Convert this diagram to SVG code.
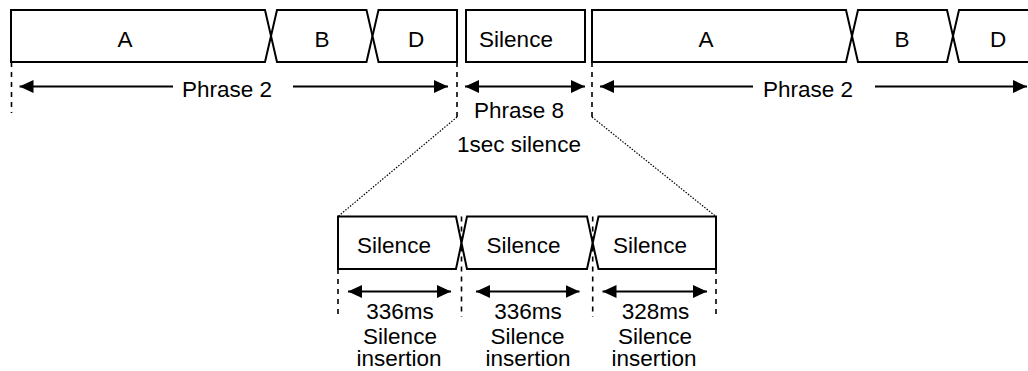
<svg xmlns="http://www.w3.org/2000/svg" width="1028" height="371" viewBox="0 0 1028 371">
<style>
.box{fill:#fff;stroke:#000;stroke-width:2;stroke-linejoin:miter}
.t{font-family:"Liberation Sans",Arial,sans-serif;font-size:22.5px;fill:#000;text-anchor:middle}
.arr{stroke:#000;stroke-width:2.2;fill:none}
.dash{stroke:#000;stroke-width:1.6;stroke-dasharray:5,5;fill:none}
.dot{stroke:#000;stroke-width:1.2;stroke-dasharray:1.5,1.5;fill:none}
</style>
<defs>
<marker id="ah" markerUnits="userSpaceOnUse" markerWidth="14" markerHeight="13" refX="14" refY="6.5" orient="auto-start-reverse">
<path d="M0,0 L14,6.5 L0,13 Z" fill="#000"/>
</marker>
</defs>
<g id="n-a1"><polygon class="box" points="11,10 265,10 271,36 265,62 11,62"/><text class="t" x="125" y="46.5">A</text></g>
<g id="n-b1"><polygon class="box" points="277,10 366.5,10 372.5,36 366.5,62 277,62 271,36"/><text class="t" x="322" y="46.5">B</text></g>
<g id="n-d1"><polygon class="box" points="378.5,10 457,10 457,62 378.5,62 372.5,36"/><text class="t" x="416" y="46.5">D</text></g>
<g id="n-sil"><rect class="box" x="466" y="10" width="119" height="52"/><text class="t" x="516" y="46.5">Silence</text></g>
<g id="n-a2"><polygon class="box" points="592,10 846,10 852,36 846,62 592,62"/><text class="t" x="706" y="46.5">A</text></g>
<g id="n-b2"><polygon class="box" points="858,10 947,10 953,36 947,62 858,62 852,36"/><text class="t" x="902" y="46.5">B</text></g>
<g id="n-d2"><polygon class="box" points="959,10 1040,10 1040,62 959,62 953,36"/><text class="t" x="998" y="46.5">D</text></g>
<g id="n-s1"><polygon class="box" points="338,216.5 456,216.5 461.5,243 456,269 338,269"/><text class="t" x="394" y="253">Silence</text></g>
<g id="n-s2"><polygon class="box" points="467,216.5 587,216.5 592.7,243 587,269 467,269 461.5,243"/><text class="t" x="523.5" y="253">Silence</text></g>
<g id="n-s3"><polygon class="box" points="598.5,216.5 716,216.5 716,269 598.5,269 592.7,243"/><text class="t" x="650" y="253">Silence</text></g>
<g id="connectors">
<line class="dash" x1="11.5" y1="62" x2="11.5" y2="113"/>
<line class="dash" x1="457" y1="62" x2="457" y2="117"/>
<line class="dash" x1="592" y1="62" x2="592" y2="117"/>
<line class="arr" x1="173" y1="86.5" x2="19.5" y2="86.5" marker-end="url(#ah)"/>
<line class="arr" x1="293" y1="86.5" x2="448" y2="86.5" marker-end="url(#ah)"/>
<line class="arr" x1="465" y1="86.5" x2="585" y2="86.5" marker-start="url(#ah)" marker-end="url(#ah)"/>
<line class="arr" x1="753" y1="86.5" x2="600" y2="86.5" marker-end="url(#ah)"/>
<line class="arr" x1="875" y1="86.5" x2="1027" y2="86.5" marker-end="url(#ah)"/>
<line class="dot" x1="457" y1="117" x2="338" y2="216.5"/>
<line class="dot" x1="592" y1="117" x2="716" y2="216.5"/>
<line class="dash" x1="338" y1="269" x2="338" y2="317"/>
<line class="dash" x1="461.5" y1="216.5" x2="461.5" y2="317"/>
<line class="dash" x1="592.7" y1="216.5" x2="592.7" y2="317"/>
<line class="dash" x1="716" y1="269" x2="716" y2="317"/>
<line class="arr" x1="348" y1="291.5" x2="451" y2="291.5" marker-start="url(#ah)" marker-end="url(#ah)"/>
<line class="arr" x1="476" y1="291.5" x2="579.5" y2="291.5" marker-start="url(#ah)" marker-end="url(#ah)"/>
<line class="arr" x1="602.5" y1="291.5" x2="707" y2="291.5" marker-start="url(#ah)" marker-end="url(#ah)"/>
</g>
<g id="labels">
<text class="t" x="227" y="96.5">Phrase 2</text>
<text class="t" x="808" y="96.5">Phrase 2</text>
<text class="t" x="519" y="118">Phrase 8</text>
<text class="t" x="519" y="151.5">1sec silence</text>
<text class="t" x="400" y="318.5">336ms</text>
<text class="t" x="400" y="344">Silence</text>
<text class="t" x="399" y="366">insertion</text>
<text class="t" x="528" y="318.5">336ms</text>
<text class="t" x="527.5" y="344">Silence</text>
<text class="t" x="528" y="366">insertion</text>
<text class="t" x="655.5" y="318.5">328ms</text>
<text class="t" x="655" y="344">Silence</text>
<text class="t" x="654" y="366">insertion</text>
</g>
</svg>
